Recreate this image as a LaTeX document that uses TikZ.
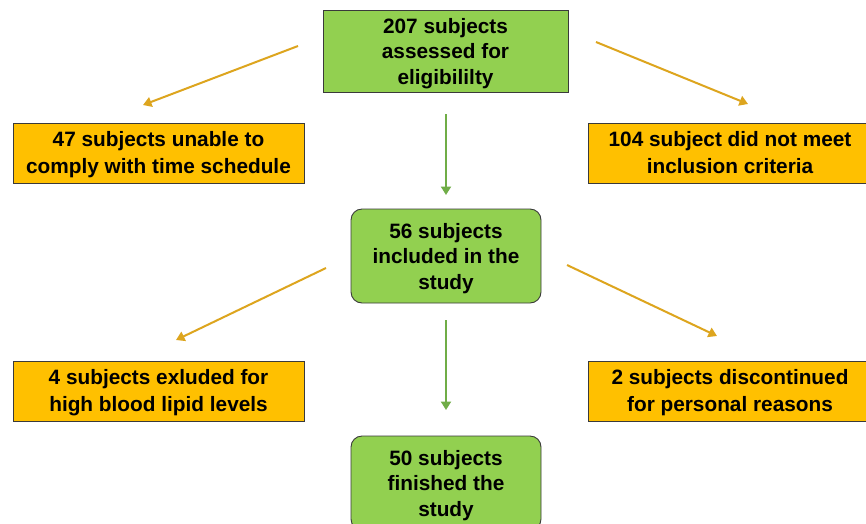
\documentclass[tikz,border=0pt]{standalone}
\usepackage{fontspec}
\setmainfont{Liberation Sans}
\usetikzlibrary{arrows.meta}
\definecolor{boxgreen}{HTML}{92D050}
\definecolor{boxorange}{HTML}{FFC000}
\definecolor{arrorange}{HTML}{DDA51E}
\definecolor{arrgreen}{HTML}{70AD47}
\definecolor{edge}{HTML}{3A3A3A}
\newcommand\threelines[1]{\fontsize{20.8}{25.5}\selectfont\begin{tabular}{@{}c@{}}#1\end{tabular}}
\newcommand\twolines[1]{\fontsize{20.8}{26.6}\selectfont\begin{tabular}{@{}c@{}}#1\end{tabular}}
\begin{document}
\begin{tikzpicture}[x=1pt,y=-1pt,
  every node/.style={font=\bfseries, align=center, inner sep=0pt},
  greenbox/.style={draw=edge, line width=0.9pt, fill=boxgreen},
  orangebox/.style={draw=edge, line width=0.9pt, fill=boxorange},
  orangearrow/.style={draw=arrorange, line width=2pt, -{Triangle[width=10pt,length=8.5pt]}},
  greenarrow/.style={draw=arrgreen, line width=2pt, -{Triangle[width=10pt,length=8.5pt]}}]
\useasboundingbox (0,0) rectangle (866,523);
\clip (0,0) rectangle (866,523);
\fill[white] (0,0) rectangle (866,523);
% boxes
\node[greenbox, minimum width=245pt, minimum height=82pt] (top) at (445.5,51) {};
\node[orangebox, minimum width=291pt, minimum height=60pt] (l1) at (158.5,153) {};
\node[orangebox, minimum width=284pt, minimum height=60pt] (r1) at (730,153) {};
\node[greenbox, rounded corners=11pt, minimum width=190pt, minimum height=94pt] (mid) at (446,256) {};
\node[orangebox, minimum width=291pt, minimum height=60pt] (l2) at (158.5,391) {};
\node[orangebox, minimum width=284pt, minimum height=60pt] (r2) at (730,391) {};
\node[greenbox, rounded corners=11pt, minimum width=190pt, minimum height=94pt] (bot) at (446,483) {};
% texts
\node (topt) at ([yshift=-2.7pt]top.center) {\threelines{207 subjects\\assessed for\\eligibililty}};
\node (l1t) at ([yshift=-1.7pt]l1.center) {\twolines{47 subjects unable to\\comply with time schedule}};
\node (r1t) at ([yshift=-1.7pt]r1.center) {\twolines{104 subject did not meet\\inclusion criteria}};
\node (midt) at ([yshift=-2.7pt]mid.center) {\threelines{56 subjects\\included in the\\study}};
\node (l2t) at ([yshift=-1.7pt]l2.center) {\twolines{4 subjects exluded for\\high blood lipid levels}};
\node (r2t) at ([yshift=-1.7pt]r2.center) {\twolines{2 subjects discontinued\\for personal reasons}};
\node (bott) at ([yshift=-2.7pt]bot.center) {\threelines{50 subjects\\finished the\\study}};
% arrow end points
\coordinate (a1s) at (298,46);  \coordinate (a1e) at (143,105);
\coordinate (a2s) at (596,42);  \coordinate (a2e) at (748,104);
\coordinate (a3s) at (446,114); \coordinate (a3e) at (446,195);
\coordinate (a4s) at (326,268); \coordinate (a4e) at (176,340);
\coordinate (a5s) at (567,265); \coordinate (a5e) at (717,336);
\coordinate (a6s) at (446,320); \coordinate (a6e) at (446,410);
\draw[orangearrow] (a1s) -- (a1e);
\draw[orangearrow] (a2s) -- (a2e);
\draw[greenarrow] (a3s) -- (a3e);
\draw[orangearrow] (a4s) -- (a4e);
\draw[orangearrow] (a5s) -- (a5e);
\draw[greenarrow] (a6s) -- (a6e);
\end{tikzpicture}
\end{document}
